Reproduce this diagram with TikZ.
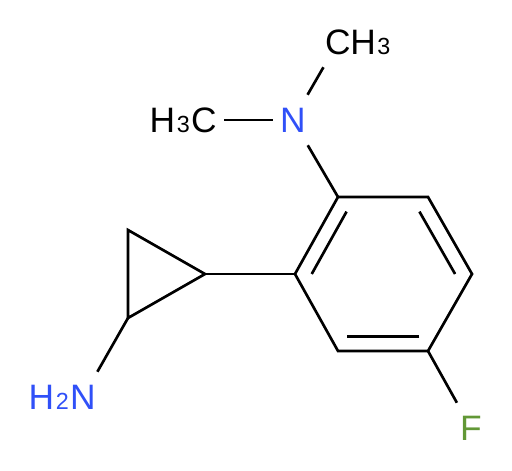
\documentclass[tikz,border=0pt]{standalone}
\usepackage{fontspec}
\setmainfont{Liberation Sans}
\usetikzlibrary{calc}
\definecolor{nblue}{RGB}{48,80,248}
\definecolor{fgreen}{RGB}{98,152,54}
\newcommand{\sbs}[1]{{\kern1.2pt\fontsize{17.5}{20}\selectfont #1}}
\begin{document}
\begin{tikzpicture}[x=0.75pt,y=-0.75pt,
  bond/.style={line width=2pt, line cap=butt},
  atom/.style={rectangle, inner sep=0pt, minimum width=30pt, minimum height=37.5pt, font=\fontsize{26.5}{30}\selectfont},
  subtext/.style={inner sep=0pt, font=\fontsize{26.5}{30}\selectfont}]
\useasboundingbox (0,0) rectangle (512,471);
% ring carbons
\coordinate (R1) at (338,197);
\coordinate (R2) at (428,197);
\coordinate (R3) at (472,274);
\coordinate (R4) at (428,351);
\coordinate (R5) at (338,351);
\coordinate (R6) at (295,274);
\coordinate (RC) at (383,274);
% cyclopropane
\coordinate (Ca) at (205,274);
\coordinate (Cb) at (128,230);
\coordinate (Cc) at (128,318);
% heteroatoms
\node[atom, text=nblue] (N1) at (293,120) {N};
\node[atom] (me1) at (204,120) {C};
\node[subtext, anchor=base east] (me1h) at ($(me1.base)+(-14,0)$) {H\sbs{3}};
\node[atom] (me2) at (338,42) {C};
\node[subtext, anchor=base west] (me2h) at ($(me2.base)+(12,0)$) {H\sbs{3}};
\node[atom, text=nblue] (N2) at (83,397) {N};
\node[subtext, anchor=base east, text=nblue] (N2h) at ($(N2.base)+(-14,0)$) {H\sbs{2}};
\node[atom, text=fgreen] (F) at (471,428) {F};
% bonds
\draw[bond] (N1) -- (me1);
\draw[bond] (N1) -- (me2);
\draw[bond] (N1) -- (R1);
\draw[bond] (R1) -- (R2) -- (R3) -- (R4) -- (R5) -- (R6) -- cycle;
\draw[bond] ($(R1)!0.19!(RC)$) -- ($(R6)!0.19!(RC)$);
\draw[bond] ($(R2)!0.19!(RC)$) -- ($(R3)!0.19!(RC)$);
\draw[bond] ($(R4)!0.19!(RC)$) -- ($(R5)!0.19!(RC)$);
\draw[bond] (R6) -- (Ca);
\draw[bond, line join=miter] (Ca) -- (Cb) -- (Cc) -- cycle;
\draw[bond] (Cc) -- (N2);
\draw[bond] (R4) -- (F);
\end{tikzpicture}
\end{document}
